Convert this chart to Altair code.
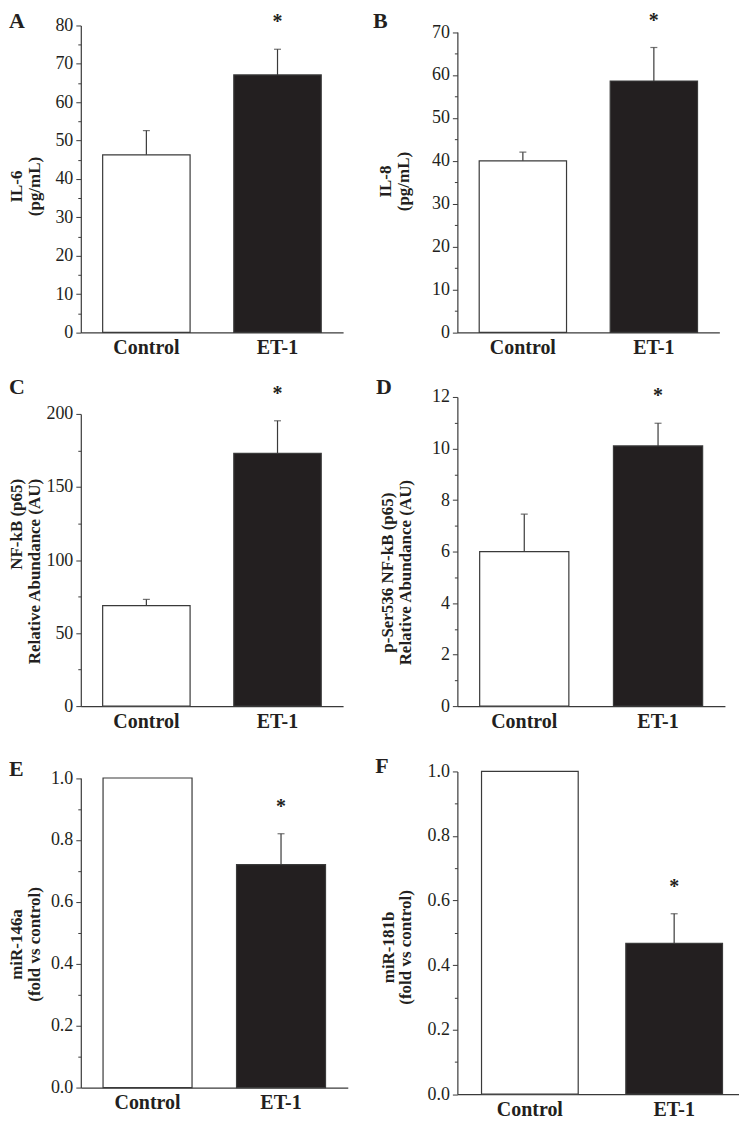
import altair as alt
import pandas as pd

# ---------------- data ----------------
categories = ["Control", "ET-1"]
significant = [False, True]

il6_mean = [46.3, 67.1]
il6_err = [6.3, 6.7]
il8_mean = [40.0, 58.6]
il8_err = [2.0, 7.8]
nfkb_mean = [68.8, 173.0]
nfkb_err = [4.3, 22.3]
pser_mean = [6.0, 10.1]
pser_err = [1.45, 0.88]
mir146_mean = [1.0, 0.72]
mir146_err = [0.0, 0.10]
mir181_mean = [1.0, 0.467]
mir181_err = [0.0, 0.092]

il6_ticks = [0, 5, 10, 15, 20, 25, 30, 35, 40, 45, 50, 55, 60, 65, 70, 75, 80]
il8_ticks = [0, 5, 10, 15, 20, 25, 30, 35, 40, 45, 50, 55, 60, 65, 70]
nfkb_ticks = [0, 25, 50, 75, 100, 125, 150, 175, 200]
pser_ticks = [0, 1, 2, 3, 4, 5, 6, 7, 8, 9, 10, 11, 12]
fold_ticks = [0.0, 0.1, 0.2, 0.3, 0.4, 0.5, 0.6, 0.7, 0.8, 0.9, 1.0]

il6_title = ["IL-6", "(pg/mL)"]
il8_title = ["IL-8", "(pg/mL)"]
nfkb_title = ["NF-kB (p65)", "Relative Abundance (AU)"]
pser_title = ["p-Ser536 NF-kB (p65)", "Relative Abundance (AU)"]
mir146_title = ["miR-146a", "(fold vs control)"]
mir181_title = ["miR-181b", "(fold vs control)"]

# ---------------- style ----------------
FONT = "Liberation Serif"
INK = "#231f20"
LINE = "#3a3a3a"


def panel(letter, means, errs, ticks, major, fmt, title_lines, title_x, title_y,
          title_align, width, height, y_range, letter_x, letter_y, x_scale,
          x_offset=0):
    df = pd.DataFrame({"group": categories, "mean": means, "err": errs,
                       "sig": significant})
    df["upper"] = df["mean"] + df["err"]
    err_df = df[df["err"] > 0]
    star_df = df[df["sig"]]

    is_major = f"abs(datum.value / {major} - round(datum.value / {major})) < 0.001"
    y_scale = alt.Scale(domain=[ticks[0], ticks[-1]], range=y_range,
                        nice=False, zero=True)
    y_axis = alt.Axis(
        values=ticks, format=fmt, grid=False,
        labelExpr=f"{is_major} ? datum.label : ''",
        labelOverlap=False, labelFlush=False,
        labelFont=FONT, labelFontSize=18, labelColor=INK, labelPadding=3,
        tickSize={"condition": {"test": is_major, "value": 5}, "value": 3},
        tickColor=LINE, tickWidth=1,
        domainColor=LINE, domainWidth=1.2,
        title=title_lines, titleFont=FONT, titleFontSize=17,
        titleFontWeight="bold", titleColor=INK, titleLineHeight=18,
        titleAngle=270, titleBaseline="alphabetic", titleAlign=title_align,
        titleX=title_x, titleY=title_y,
    )
    x_axis = alt.Axis(
        title=None, ticks=False, labelAngle=0, grid=False,
        labelFont=FONT, labelFontSize=20, labelFontWeight="bold",
        labelColor=INK, labelPadding=5,
        domainColor=LINE, domainWidth=1.2, offset=x_offset,
    )
    x_enc = alt.X("group:N", sort=categories, scale=x_scale, axis=x_axis)

    def y_enc(field):
        return alt.Y(field, type="quantitative", scale=y_scale, axis=y_axis)

    bars = alt.Chart(df).mark_bar(stroke=LINE, strokeWidth=1.2).encode(
        x=x_enc,
        y=y_enc("mean"),
        color=alt.Color("group:N", scale=alt.Scale(domain=categories,
                        range=["#ffffff", INK]), legend=None),
    )
    rules = alt.Chart(err_df).mark_rule(color=LINE, strokeWidth=1.2).encode(
        x=x_enc,
        y=y_enc("mean"),
        y2="upper:Q",
    )
    caps = alt.Chart(err_df).mark_tick(color=LINE, size=7, thickness=1.2).encode(
        x=x_enc,
        y=y_enc("upper"),
    )
    stars = alt.Chart(star_df).mark_text(
        text="*", font=FONT, fontSize=20, fontWeight="bold", color=INK,
        baseline="alphabetic", dy=-21,
    ).encode(
        x=x_enc,
        y=y_enc("upper"),
    )
    tag = alt.Chart(pd.DataFrame({"letter": [letter]})).mark_text(
        font=FONT, fontSize=22, fontWeight="bold", color=INK,
        align="left", baseline="top",
    ).encode(
        x=alt.value(letter_x), y=alt.value(letter_y), text="letter:N",
    )
    return alt.layer(bars, rules, caps, stars, tag).properties(
        width=width, height=height)


std_x = alt.Scale(paddingInner=1 / 3, paddingOuter=1 / 6)
wide_x = alt.Scale(paddingInner=0.33, paddingOuter=0.1395, align=0.6)

H1, H2, H3 = 307.8, 310.1, 323.6

pA = panel("A", il6_mean, il6_err, il6_ticks, 10, "d", il6_title,
           -59, 161, "center", 263, H1, [H1, 0], -72, -14.7, std_x)
pB = panel("B", il8_mean, il8_err, il8_ticks, 10, "d", il8_title,
           -67, 156, "center", 262.7, H1, [H1, 6.6], -84.6, -14.7, std_x)
pC = panel("C", nfkb_mean, nfkb_err, nfkb_ticks, 50, "d", nfkb_title,
           -59, 81.7, "right", 263, H2, [H2, 17.0], -72, -19.8, std_x)
pD = panel("D", pser_mean, pser_err, pser_ticks, 2, "d", pser_title,
           -65, 175.7, "center", 268.3, H2, [H2, 0], -81.7, -20.1, std_x)
pE = panel("E", mir146_mean, mir146_err, fold_ticks, 0.2, ".1f", mir146_title,
           -59, 173, "center", 267.7, H3, [H3 - 6.6, 6.6], -72, -12.5, std_x,
           x_offset=-6.6)
pF = panel("F", mir181_mean, mir181_err, fold_ticks, 0.2, ".1f", mir181_title,
           -64.5, 176, "center", 282, H3, [H3, 0], -82.3, -15.8, wide_x)

chart = alt.concat(
    pA, pB, pC, pD, pE, pF,
    columns=2,
    spacing={"row": 64.5, "column": 109.6},
    bounds="flush",
    align="each",
).properties(
    padding=0,
    background="#ffffff",
).configure_view(
    strokeWidth=0,
)

chart.save("out.html", embed_options={"renderer": "svg", "actions": False})
